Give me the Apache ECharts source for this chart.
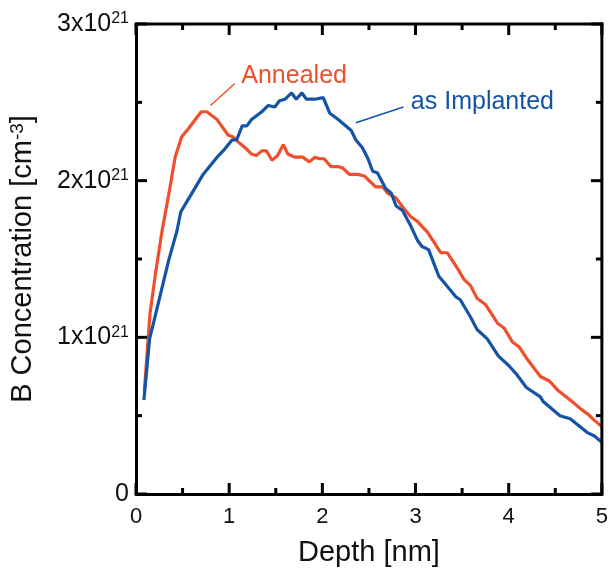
<!DOCTYPE html>
<html>
<head>
<meta charset="utf-8">
<script src="https://cdn.jsdelivr.net/npm/echarts@6/dist/echarts.min.js"></script>
<style>
html,body{margin:0;padding:0;background:#fff;}
#chart{width:611px;height:572px;}
</style>
</head>
<body>
<div id="chart"></div>
<script>
// Depth in nm, concentration in units of 1e21 cm^-3
const implantedDepth = [0.085,0.146,0.22,0.35,0.44,0.48,0.53,0.62,0.72,0.87,0.95,1.03,1.08,1.14,1.19,1.24,1.35,1.42,1.49,1.54,1.60,1.67,1.72,1.78,1.83,1.92,2.01,2.08,2.17,2.31,2.36,2.43,2.49,2.54,2.59,2.68,2.74,2.79,2.86,2.95,3.02,3.07,3.14,3.25,3.32,3.43,3.48,3.59,3.66,3.77,3.89,4.00,4.09,4.19,4.34,4.37,4.55,4.66,4.85,4.92,4.98,5.00];
const implantedConc  = [0.60,0.99,1.17,1.49,1.68,1.80,1.85,1.94,2.04,2.15,2.20,2.26,2.26,2.35,2.35,2.39,2.44,2.48,2.47,2.51,2.52,2.56,2.52,2.56,2.52,2.52,2.53,2.43,2.39,2.32,2.26,2.21,2.14,2.06,2.05,1.95,1.92,1.84,1.81,1.71,1.62,1.58,1.56,1.39,1.34,1.26,1.24,1.13,1.05,0.99,0.88,0.82,0.76,0.68,0.62,0.59,0.50,0.48,0.39,0.37,0.34,0.33];

const annealedDepth = [0.09,0.15,0.21,0.28,0.36,0.42,0.49,0.56,0.70,0.76,0.87,0.99,1.04,1.11,1.19,1.24,1.29,1.35,1.40,1.46,1.52,1.58,1.63,1.70,1.79,1.86,1.92,1.97,2.02,2.09,2.17,2.22,2.29,2.38,2.45,2.52,2.57,2.65,2.70,2.79,2.89,2.95,3.02,3.13,3.27,3.34,3.45,3.52,3.59,3.66,3.75,3.88,3.95,4.04,4.11,4.20,4.34,4.44,4.53,4.66,4.78,4.85,4.92,5.00];
const annealedConc  = [0.66,1.15,1.41,1.68,1.94,2.15,2.28,2.33,2.44,2.44,2.39,2.29,2.28,2.24,2.20,2.17,2.16,2.19,2.19,2.13,2.16,2.23,2.17,2.15,2.15,2.12,2.15,2.14,2.14,2.09,2.09,2.08,2.04,2.04,2.03,1.99,1.96,1.96,1.92,1.89,1.81,1.77,1.74,1.67,1.54,1.54,1.44,1.37,1.33,1.25,1.21,1.09,1.06,0.97,0.94,0.86,0.75,0.72,0.66,0.60,0.54,0.51,0.47,0.43];

const xTickLabels = ['0','1','2','3','4','5'];
const yTickMantissa = ['0','1','2','3'];
const yTickExponent = '21';
const xMajorTicks = [0,1,2,3,4,5];
const xMinorTicks = [0.5,1.5,2.5,3.5,4.5];
const yMajorTicks = [0,1,2,3];
const yMinorTicks = [0.5,1.5,2.5];
const seriesNames = ['as Implanted','Annealed'];

const X_MIN = 0, X_MAX = 5, Y_MIN = 0, Y_MAX = 3;
const RED = '#EF4F2C';
const BLUE = '#1553A6';
const FONT = 'Liberation Sans, Arial, Helvetica, sans-serif';
const MAJOR_LEN = 11, MINOR_LEN = 6, FRAME_W = 3;

function zip(a,b){ return a.map((v,i)=>[v,b[i]]); }

// Frame pieces: [side, value, isMajor]
// side 0 = top tick, 1 = right tick, 2 = top edge, 3 = right edge, 4 = bottom tick, 5 = left tick
const frameItems = [[2,0,0],[3,0,0]]
  .concat(xMajorTicks.map(v=>[0,v,1]), xMinorTicks.map(v=>[0,v,0]))
  .concat(yMajorTicks.map(v=>[1,v,1]), yMinorTicks.map(v=>[1,v,0]))
  .concat(xMajorTicks.map(v=>[4,v,1]), xMinorTicks.map(v=>[4,v,0]))
  .concat(yMajorTicks.map(v=>[5,v,1]), yMinorTicks.map(v=>[5,v,0]));

function renderFrame(params, api){
  const side = api.value(0), v = api.value(1), major = api.value(2);
  const len = major ? MAJOR_LEN : MINOR_LEN;
  let x1,y1,x2,y2;
  if (side === 0){ const p = api.coord([v, Y_MAX]); x1=p[0]; y1=p[1]; x2=p[0]; y2=p[1]+len; }
  else if (side === 1){ const p = api.coord([X_MAX, v]); x1=p[0]; y1=p[1]; x2=p[0]-len; y2=p[1]; }
  else if (side === 2){ const a = api.coord([X_MIN, Y_MAX]), b = api.coord([X_MAX, Y_MAX]); x1=a[0]-1.5; y1=a[1]; x2=b[0]+1.5; y2=b[1]; }
  else if (side === 3){ const a = api.coord([X_MAX, Y_MIN]), b = api.coord([X_MAX, Y_MAX]); x1=a[0]; y1=a[1]+1.5; x2=b[0]; y2=b[1]-1.5; }
  else if (side === 4){ const p = api.coord([v, Y_MIN]); x1=p[0]; y1=p[1]; x2=p[0]; y2=p[1]-len; }
  else { const p = api.coord([X_MIN, v]); x1=p[0]; y1=p[1]; x2=p[0]+len; y2=p[1]; }
  return {type:'line', shape:{x1,y1,x2,y2}, style:{stroke:'#000', lineWidth:FRAME_W}};
}

const AXLINE = {show:true, lineStyle:{color:'#000', width:FRAME_W}};

const chart = echarts.init(document.getElementById('chart'));
chart.setOption({
  animation:false,
  backgroundColor:'#fff',
  grid:{left:134, top:24, width:468, height:470},
  xAxis:{type:'value', min:X_MIN, max:X_MAX, interval:1,
    axisLine:AXLINE, axisTick:{show:false}, minorTick:{show:false},
    splitLine:{show:false}, minorSplitLine:{show:false},
    axisLabel:{show:true, margin:12, fontSize:22, color:'#111', fontFamily:FONT,
      formatter:(v)=>xTickLabels[Math.round(v)]},
    name:'Depth [nm]', nameLocation:'middle', nameGap:44,
    nameTextStyle:{fontSize:29, color:'#111', fontFamily:FONT}},
  yAxis:{type:'value', min:Y_MIN, max:Y_MAX, interval:1,
    axisLine:AXLINE, axisTick:{show:false}, minorTick:{show:false},
    splitLine:{show:false}, minorSplitLine:{show:false},
    axisLabel:{show:true, margin:7, color:'#111', fontFamily:FONT,
      formatter:(v)=>{
        const m = yTickMantissa[Math.round(v)];
        return v===0 ? '{n|'+m+'}' : '{n|'+m+'x10}{s|'+yTickExponent+'}';
      },
      rich:{
        n:{fontSize:25, fontFamily:FONT, color:'#111', lineHeight:26},
        s:{fontSize:16, fontFamily:FONT, color:'#111', verticalAlign:'top', lineHeight:26, padding:[0,0,10,0]}
      }
    },
    name:'{a|B Concentration [cm}{s|-3}{a|]}', nameLocation:'middle', nameGap:98, nameRotate:90,
    nameTextStyle:{color:'#111', fontFamily:FONT,
      rich:{
        a:{fontSize:29, fontFamily:FONT, color:'#111', lineHeight:30},
        s:{fontSize:19, fontFamily:FONT, color:'#111', verticalAlign:'top', lineHeight:30, padding:[0,0,12,0]}
      }
    }},
  series:[
    {
      name:seriesNames[0], type:'line',
      data:zip(implantedDepth, implantedConc),
      showSymbol:false, symbol:'none', smooth:false,
      lineStyle:{color:BLUE, width:3.2}, itemStyle:{color:BLUE}, z:3,
      markLine:{silent:true, symbol:'none', animation:false,
        lineStyle:{color:BLUE, width:1.5, type:'solid'}, label:{show:false},
        data:[[{coord:[2.36,2.37]},{coord:[2.87,2.47]}]]},
      markPoint:{silent:true, animation:false, symbol:'circle', symbolSize:0,
        data:[{coord:[2.95,2.50], value:seriesNames[0]}],
        label:{show:true, position:'right', distance:0, formatter:seriesNames[0],
          fontSize:25, color:BLUE, fontFamily:FONT}}
    },
    {
      name:seriesNames[1], type:'line',
      data:zip(annealedDepth, annealedConc),
      showSymbol:false, symbol:'none', smooth:false,
      lineStyle:{color:RED, width:3.2}, itemStyle:{color:RED}, z:2,
      markLine:{silent:true, symbol:'none', animation:false,
        lineStyle:{color:RED, width:1.5, type:'solid'}, label:{show:false},
        data:[[{coord:[0.80,2.48]},{coord:[1.06,2.62]}]]},
      markPoint:{silent:true, animation:false, symbol:'circle', symbolSize:0,
        data:[{coord:[1.13,2.67], value:seriesNames[1]}],
        label:{show:true, position:'right', distance:0, formatter:seriesNames[1],
          fontSize:25, color:RED, fontFamily:FONT}}
    },
    {
      name:'frame', type:'custom', silent:true, clip:false, z:5,
      renderItem:renderFrame, data:frameItems, encode:{x:-1, y:-1}, tooltip:{show:false}
    }
  ]
});
</script>
</body>
</html>
